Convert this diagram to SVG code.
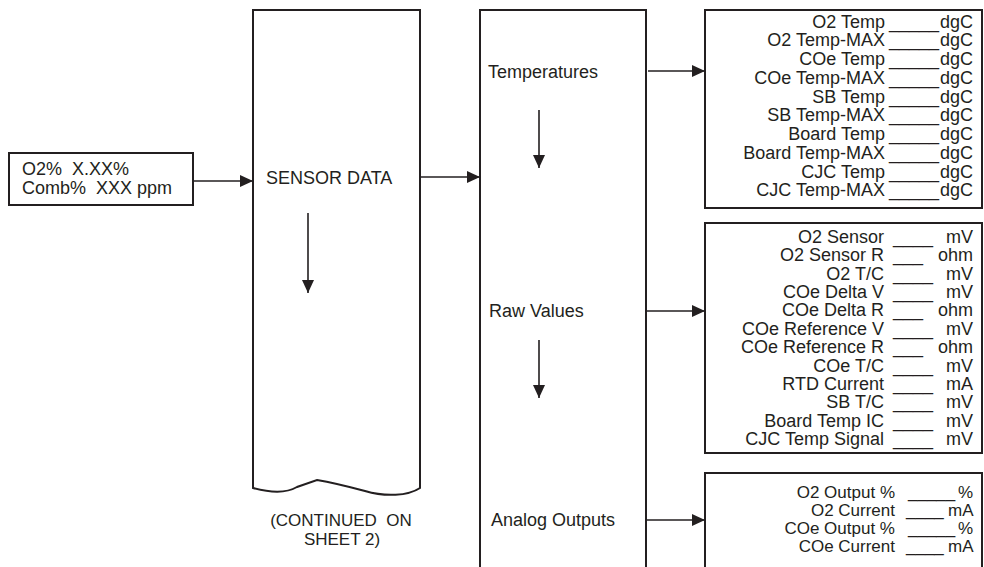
<svg xmlns="http://www.w3.org/2000/svg" width="984" height="567" viewBox="0 0 984 567">
<defs>
<style>
.box{fill:#fff;stroke:#231f20;stroke-width:2}
.ln{fill:none;stroke:#231f20;stroke-width:1.6}
text{font-family:"Liberation Sans",Arial,Helvetica,sans-serif;font-size:18px;fill:#231f20;white-space:pre}
.s{font-size:17px}
.m{text-anchor:middle}
.e{text-anchor:end}
</style>
<marker id="ah" markerUnits="userSpaceOnUse" markerWidth="13" markerHeight="12" refX="13" refY="6" orient="auto">
<path d="M0,0 L13,6 L0,12 z" fill="#231f20"/>
</marker>
</defs>
<rect width="984" height="567" fill="#fff"/>

<g id="input">
<rect class="box" x="9" y="153" width="184" height="52"/>
<text x="22" y="175" xml:space="preserve">O2%  X.XX%</text>
<text x="22" y="194" xml:space="preserve">Comb%  XXX ppm</text>
</g>

<g id="sensor-data">
<path class="box" d="M253,488 V10 H420 V488 C408,496 385,497 365,491 C350,487 335,483 317,480 L297,487 C285,494 268,492 253,488 Z"/>
<text x="266" y="184">SENSOR DATA</text>
<text class="m s" x="341" y="526" xml:space="preserve">(CONTINUED  ON</text>
<text class="m s" x="342" y="545">SHEET 2)</text>
</g>

<g id="menu">
<path class="box" d="M480,568 V10 H646 V568"/>
<text x="488" y="78">Temperatures</text>
<text x="489" y="317">Raw Values</text>
<text x="491" y="526">Analog Outputs</text>
</g>

<g id="temperatures">
<rect class="box" x="705" y="10" width="277" height="198"/>
<text y="27.5"><tspan class="e" x="885">O2 Temp</tspan><tspan x="889">_____</tspan><tspan x="940">dgC</tspan></text>
<text y="46.25"><tspan class="e" x="885">O2 Temp-MAX</tspan><tspan x="889">_____</tspan><tspan x="940">dgC</tspan></text>
<text y="65"><tspan class="e" x="885">COe Temp</tspan><tspan x="889">_____</tspan><tspan x="940">dgC</tspan></text>
<text y="83.75"><tspan class="e" x="885">COe Temp-MAX</tspan><tspan x="889">_____</tspan><tspan x="940">dgC</tspan></text>
<text y="102.5"><tspan class="e" x="885">SB Temp</tspan><tspan x="889">_____</tspan><tspan x="940">dgC</tspan></text>
<text y="121.25"><tspan class="e" x="885">SB Temp-MAX</tspan><tspan x="889">_____</tspan><tspan x="940">dgC</tspan></text>
<text y="140"><tspan class="e" x="885">Board Temp</tspan><tspan x="889">_____</tspan><tspan x="940">dgC</tspan></text>
<text y="158.75"><tspan class="e" x="885">Board Temp-MAX</tspan><tspan x="889">_____</tspan><tspan x="940">dgC</tspan></text>
<text y="177.5"><tspan class="e" x="885">CJC Temp</tspan><tspan x="889">_____</tspan><tspan x="940">dgC</tspan></text>
<text y="196.25"><tspan class="e" x="885">CJC Temp-MAX</tspan><tspan x="889">_____</tspan><tspan x="940">dgC</tspan></text>
</g>

<g id="raw-values">
<rect class="box" x="705" y="223" width="277" height="230"/>
<text y="243"><tspan class="e" x="884">O2 Sensor</tspan><tspan x="893">____</tspan><tspan x="946">mV</tspan></text>
<text y="261.4"><tspan class="e" x="884">O2 Sensor R</tspan><tspan x="893">___</tspan><tspan x="938">ohm</tspan></text>
<text y="279.7"><tspan class="e" x="884">O2 T/C</tspan><tspan x="893">____</tspan><tspan x="946">mV</tspan></text>
<text y="298.1"><tspan class="e" x="884">COe Delta V</tspan><tspan x="893">____</tspan><tspan x="946">mV</tspan></text>
<text y="316.4"><tspan class="e" x="884">COe Delta R</tspan><tspan x="893">___</tspan><tspan x="938">ohm</tspan></text>
<text y="334.8"><tspan class="e" x="884">COe Reference V</tspan><tspan x="893">____</tspan><tspan x="946">mV</tspan></text>
<text y="353.1"><tspan class="e" x="884">COe Reference R</tspan><tspan x="893">___</tspan><tspan x="938">ohm</tspan></text>
<text y="371.5"><tspan class="e" x="884">COe T/C</tspan><tspan x="893">____</tspan><tspan x="946">mV</tspan></text>
<text y="389.8"><tspan class="e" x="884">RTD Current</tspan><tspan x="893">____</tspan><tspan x="946">mA</tspan></text>
<text y="408.2"><tspan class="e" x="884">SB T/C</tspan><tspan x="893">____</tspan><tspan x="946">mV</tspan></text>
<text y="426.5"><tspan class="e" x="884">Board Temp IC</tspan><tspan x="893">____</tspan><tspan x="946">mV</tspan></text>
<text y="444.9"><tspan class="e" x="884">CJC Temp Signal</tspan><tspan x="893">____</tspan><tspan x="946">mV</tspan></text>
</g>

<g id="analog-outputs">
<path class="box" d="M705,568 V473 H982 V568"/>
<text class="s" y="498"><tspan class="e" x="895">O2 Output %</tspan><tspan x="908">_____</tspan><tspan x="958">%</tspan></text>
<text class="s" y="516"><tspan class="e" x="895">O2 Current</tspan><tspan x="906">____</tspan><tspan x="948">mA</tspan></text>
<text class="s" y="534"><tspan class="e" x="895">COe Output %</tspan><tspan x="908">_____</tspan><tspan x="958">%</tspan></text>
<text class="s" y="552"><tspan class="e" x="895">COe Current</tspan><tspan x="906">____</tspan><tspan x="948">mA</tspan></text>
</g>

<g id="connectors">
<line class="ln" x1="193" y1="181" x2="253" y2="181" marker-end="url(#ah)"/>
<line class="ln" x1="420" y1="177" x2="480" y2="177" marker-end="url(#ah)"/>
<line class="ln" x1="648" y1="71" x2="705" y2="71" marker-end="url(#ah)"/>
<line class="ln" x1="646" y1="311" x2="705" y2="311" marker-end="url(#ah)"/>
<line class="ln" x1="646" y1="520" x2="705" y2="520" marker-end="url(#ah)"/>
<line class="ln" x1="308" y1="213" x2="308" y2="293" marker-end="url(#ah)"/>
<line class="ln" x1="539" y1="110" x2="539" y2="168" marker-end="url(#ah)"/>
<line class="ln" x1="539" y1="340" x2="539" y2="398" marker-end="url(#ah)"/>
</g>
</svg>
